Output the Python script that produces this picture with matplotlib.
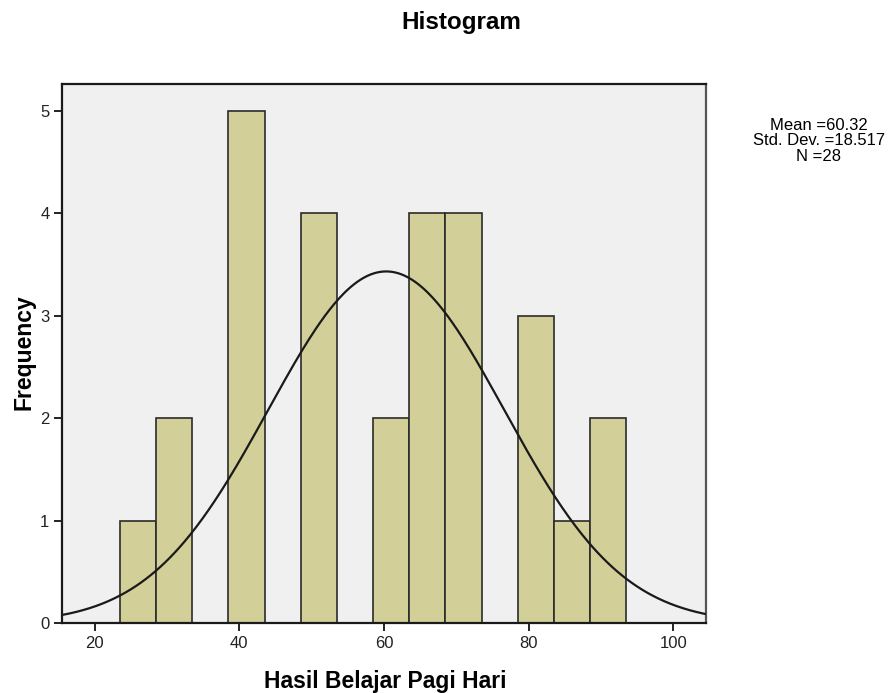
import numpy as np
import matplotlib.pyplot as plt

# ==========================================
# DATA
# ==========================================

bin_left = [23.5, 28.5, 38.5, 48.5, 58.5, 63.5, 68.5, 78.5, 83.5, 88.5]
counts = [1, 2, 5, 4, 2, 4, 4, 3, 1, 2]
bin_width = 5

mean = 60.32
std_dev = 18.517
n_obs = 28

# normal curve as drawn: peak height and visual spread
curve_peak = 3.43
curve_spread = 16.3

# ==========================================
# FIGURE
# ==========================================

plt.rcParams["font.family"] = ["Liberation Sans", "DejaVu Sans"]

fig = plt.figure(figsize=(8.88, 6.93), dpi=100)
ax = fig.add_axes([0.0698, 0.101, 0.725, 0.778])
ax.set_facecolor("#F0F0F0")

ax.bar(bin_left, counts, width=bin_width, align="edge",
       color="#D3CF98", edgecolor="#2b2b2b", linewidth=1.2, zorder=2)

xs = np.linspace(15.5, 104.5, 400)
ys = curve_peak * np.exp(-0.5 * ((xs - mean) / curve_spread) ** 2)
ax.plot(xs, ys, color="#1a1a1a", linewidth=1.6, zorder=3)

ax.set_xlim(15.5, 104.5)
ax.set_ylim(0, 5.26)
ax.set_xticks([20, 40, 60, 80, 100])
ax.set_yticks([0, 1, 2, 3, 4, 5])
ax.tick_params(direction="out", length=6, width=1.4, labelsize=12,
               colors="#222222", pad=3)

for side in ["left", "bottom", "top", "right"]:
    ax.spines[side].set_linewidth(1.6)
    ax.spines[side].set_color("#1a1a1a")
ax.spines["right"].set_color("#555555")

ax.set_xlabel("Hasil Belajar Pagi Hari", fontsize=16.5, fontweight="bold")
ax.set_ylabel("Frequency", fontsize=16.5, fontweight="bold")
ax.xaxis.set_label_coords(0.5016, -0.088)
ax.yaxis.set_label_coords(-0.041, 0.503)

fig.text(0.519, 0.968, "Histogram", ha="center", va="center",
         fontsize=17.5, fontweight="bold")

stats = "Mean =%.2f\nStd. Dev. =%.3f\nN =%d" % (mean, std_dev, n_obs)
fig.text(0.922, 0.797, stats, ha="center", va="center", fontsize=12,
         linespacing=1.05)

fig.savefig("out.png", dpi=100)
